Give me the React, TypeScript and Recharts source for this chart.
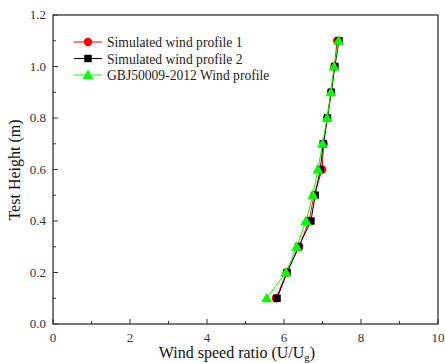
import { LineChart, Line, XAxis, YAxis } from 'recharts';

const heights = [0.1, 0.2, 0.3, 0.4, 0.5, 0.6, 0.7, 0.8, 0.9, 1.0, 1.1];
const profile1 = [5.79, 6.07, 6.39, 6.65, 6.78, 6.99, 7.03, 7.12, 7.22, 7.31, 7.38];
const profile2 = [5.82, 6.08, 6.38, 6.70, 6.81, 6.94, 7.02, 7.13, 7.23, 7.32, 7.43];
const gbj = [5.55, 6.05, 6.33, 6.57, 6.75, 6.88, 7.0, 7.12, 7.22, 7.3, 7.42];

const xTicks = [0, 1, 2, 3, 4, 5, 6, 7, 8, 9, 10];
const yTicks = [0, 0.1, 0.2, 0.3, 0.4, 0.5, 0.6, 0.7, 0.8, 0.9, 1.0, 1.1, 1.2];

const toPoints = (xs: number[]) => xs.map((x, i) => ({ x, y: heights[i] }));

const FONT = '"Liberation Serif", "Times New Roman", serif';
const LEFT = 53;
const BOTTOM = 324;

const Circle = (p: any) => <circle cx={p.cx} cy={p.cy} r={4.2} fill="#ff0000" />;
const Square = (p: any) => <rect x={p.cx - 3.7} y={p.cy - 3.7} width={7.4} height={7.4} fill="#000" />;
const Tri = (p: any) => (
  <polygon points={`${p.cx},${p.cy - 5.5} ${p.cx - 5.5},${p.cy + 4} ${p.cx + 5.5},${p.cy + 4}`} fill="#00ff00" />
);

const YTick = (p: any) => {
  const v = p.payload.value;
  const major = Math.round(v * 10) % 2 === 0;
  return (
    <g>
      <line x1={LEFT} x2={LEFT + (major ? 5 : 3)} y1={p.y} y2={p.y} stroke="#333" />
      {major && (
        <text x={46} y={p.y} dy={4} textAnchor="end" fontSize={13} style={{ fontFamily: FONT }} fill="#333">
          {v.toFixed(1)}
        </text>
      )}
    </g>
  );
};

const XTick = (p: any) => {
  const v = p.payload.value;
  const major = v % 2 === 0;
  return (
    <g>
      <line x1={p.x} x2={p.x} y1={BOTTOM} y2={BOTTOM - (major ? 5 : 3)} stroke="#333" />
      {major && (
        <text x={p.x} y={342} textAnchor="middle" fontSize={13} style={{ fontFamily: FONT }} fill="#333">
          {v}
        </text>
      )}
    </g>
  );
};

const legend = [
  { name: 'Simulated wind profile 1', color: '#ff0000', Mark: Circle },
  { name: 'Simulated wind profile 2', color: '#000000', Mark: Square },
  { name: 'GBJ50009-2012 Wind profile', color: '#00ff00', Mark: Tri },
];

export default function App() {
  return (
    <div style={{ position: 'fixed', left: 0, top: 0, width: 445, height: 363, background: '#fff' }}>
      <LineChart width={445} height={363} margin={{ top: 15, right: 7, bottom: 0, left: 0 }}>
        <rect x={LEFT} y={15} width={385} height={309} fill="none" stroke="#333" strokeWidth={1.3} />
        <XAxis
          type="number"
          dataKey="x"
          domain={[0, 10]}
          ticks={xTicks}
          height={39}
          tickLine={false}
          axisLine={false}
          tick={<XTick />}
          interval={0}
          allowDataOverflow
        />
        <YAxis
          type="number"
          dataKey="y"
          domain={[0, 1.2]}
          ticks={yTicks}
          width={53}
          tickLine={false}
          axisLine={false}
          tick={<YTick />}
          interval={0}
          allowDataOverflow
        />
        <Line data={toPoints(profile1)} dataKey="y" stroke="#ff0000" strokeWidth={1} dot={<Circle />} isAnimationActive={false} />
        <Line data={toPoints(profile2)} dataKey="y" stroke="#000000" strokeWidth={1} dot={<Square />} isAnimationActive={false} />
        <Line data={toPoints(gbj)} dataKey="y" stroke="#00ff00" strokeWidth={1} dot={<Tri />} isAnimationActive={false} />
        {legend.map((l, i) => {
          const y = 42 + i * 16.5;
          return (
            <g key={l.name}>
              <line x1={74} x2={102} y1={y} y2={y} stroke={l.color} />
              <l.Mark cx={88} cy={y} />
              <text x={107} y={y} dy={5} fontSize={13.6} style={{ fontFamily: FONT }} fill="#222">
                {l.name}
              </text>
            </g>
          );
        })}
        <text
          transform="translate(20,170) rotate(-90)"
          textAnchor="middle"
          fontSize={16}
          style={{ fontFamily: FONT }}
          fill="#111"
        >
          Test Height (m)
        </text>
        <text x={237} y={358} textAnchor="middle" fontSize={16} style={{ fontFamily: FONT }} fill="#111">
          Wind speed ratio (U/U
          <tspan fontSize={11} dy={3}>g</tspan>
          <tspan dy={-3}>)</tspan>
        </text>
      </LineChart>
    </div>
  );
}
